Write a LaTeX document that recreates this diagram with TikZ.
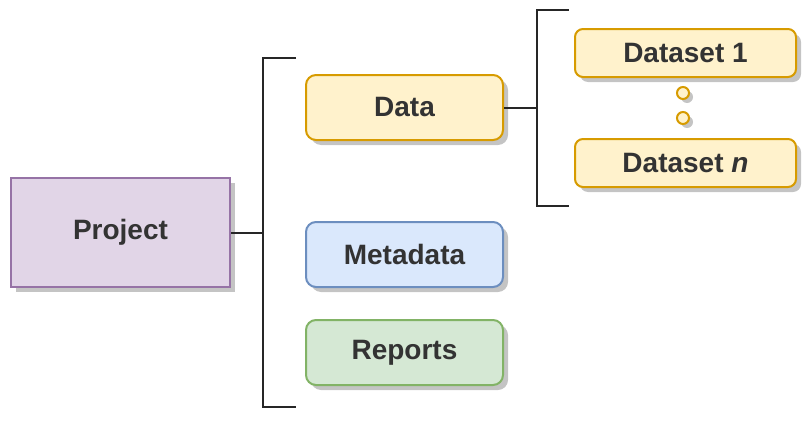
\documentclass[tikz,border=0pt]{standalone}
\usepackage{fontspec}
\setmainfont{Liberation Sans}
\usetikzlibrary{shadows}
\definecolor{txt}{HTML}{333333}
\definecolor{pfill}{HTML}{E1D5E7}\definecolor{pline}{HTML}{9673A6}
\definecolor{yfill}{HTML}{FFF2CC}\definecolor{yline}{HTML}{D79B00}
\definecolor{bfill}{HTML}{DAE8FC}\definecolor{bline}{HTML}{6C8EBF}
\definecolor{gfill}{HTML}{D5E8D4}\definecolor{gline}{HTML}{82B366}
\definecolor{shd}{HTML}{C4C4C4}
\tikzset{
  boxbase/.style={draw, line width=2pt, text=txt, font=\fontsize{28}{32}\selectfont\bfseries,
    inner sep=0pt, drop shadow={shadow xshift=5pt, shadow yshift=-5pt, fill=shd, opacity=1}},
  projbox/.style={boxbase, fill=pfill, draw=pline, minimum width=219pt, minimum height=109pt},
  rbox/.style={boxbase, rounded corners=10pt, minimum width=197pt, minimum height=65pt},
  dsbox/.style={boxbase, fill=yfill, draw=yline, rounded corners=8pt, minimum width=221pt, minimum height=48pt},
  dotnode/.style={circle, draw=yline, fill=yfill, line width=2pt, minimum size=12pt, inner sep=0pt,
    drop shadow={shadow xshift=4pt, shadow yshift=-4pt, fill=shd, opacity=1}},
  bracket/.style={draw=black!85, line width=2pt},
}
\begin{document}
\begin{tikzpicture}[x=1pt,y=-1pt]
\useasboundingbox (0,0) rectangle (806,423);
\node[projbox] (project) at (120.5,232.5) {Project};
\node[rbox, fill=yfill, draw=yline] (data) at (404.5,107.5) {Data};
\node[rbox, fill=bfill, draw=bline] (meta) at (404.5,254.5) {Metadata};
\node[rbox, fill=gfill, draw=gline] (reports) at (404.5,352.5) {Reports};
\node[dsbox] (ds1) at (685.5,53) {Dataset 1};
\node[dsbox] (dsn) at (685.5,163) {Dataset \textit{n}};
\node[dotnode] (dot1) at (683,93) {};
\node[dotnode] (dot2) at (683,118) {};
% bracket 1
\coordinate (b1t) at (296,58);
\coordinate (b1b) at (296,407);
\coordinate (b1m) at (263,232.5);
\draw[bracket] (b1t) -| (b1m) |- (b1b);
\draw[bracket] (project.east) -- (b1m);
% bracket 2
\coordinate (b2t) at (569,10);
\coordinate (b2b) at (569,206);
\coordinate (b2m) at (537,107.5);
\draw[bracket] (b2t) -| (b2m) |- (b2b);
\draw[bracket] (data.east) -- (b2m);
\end{tikzpicture}
\end{document}
